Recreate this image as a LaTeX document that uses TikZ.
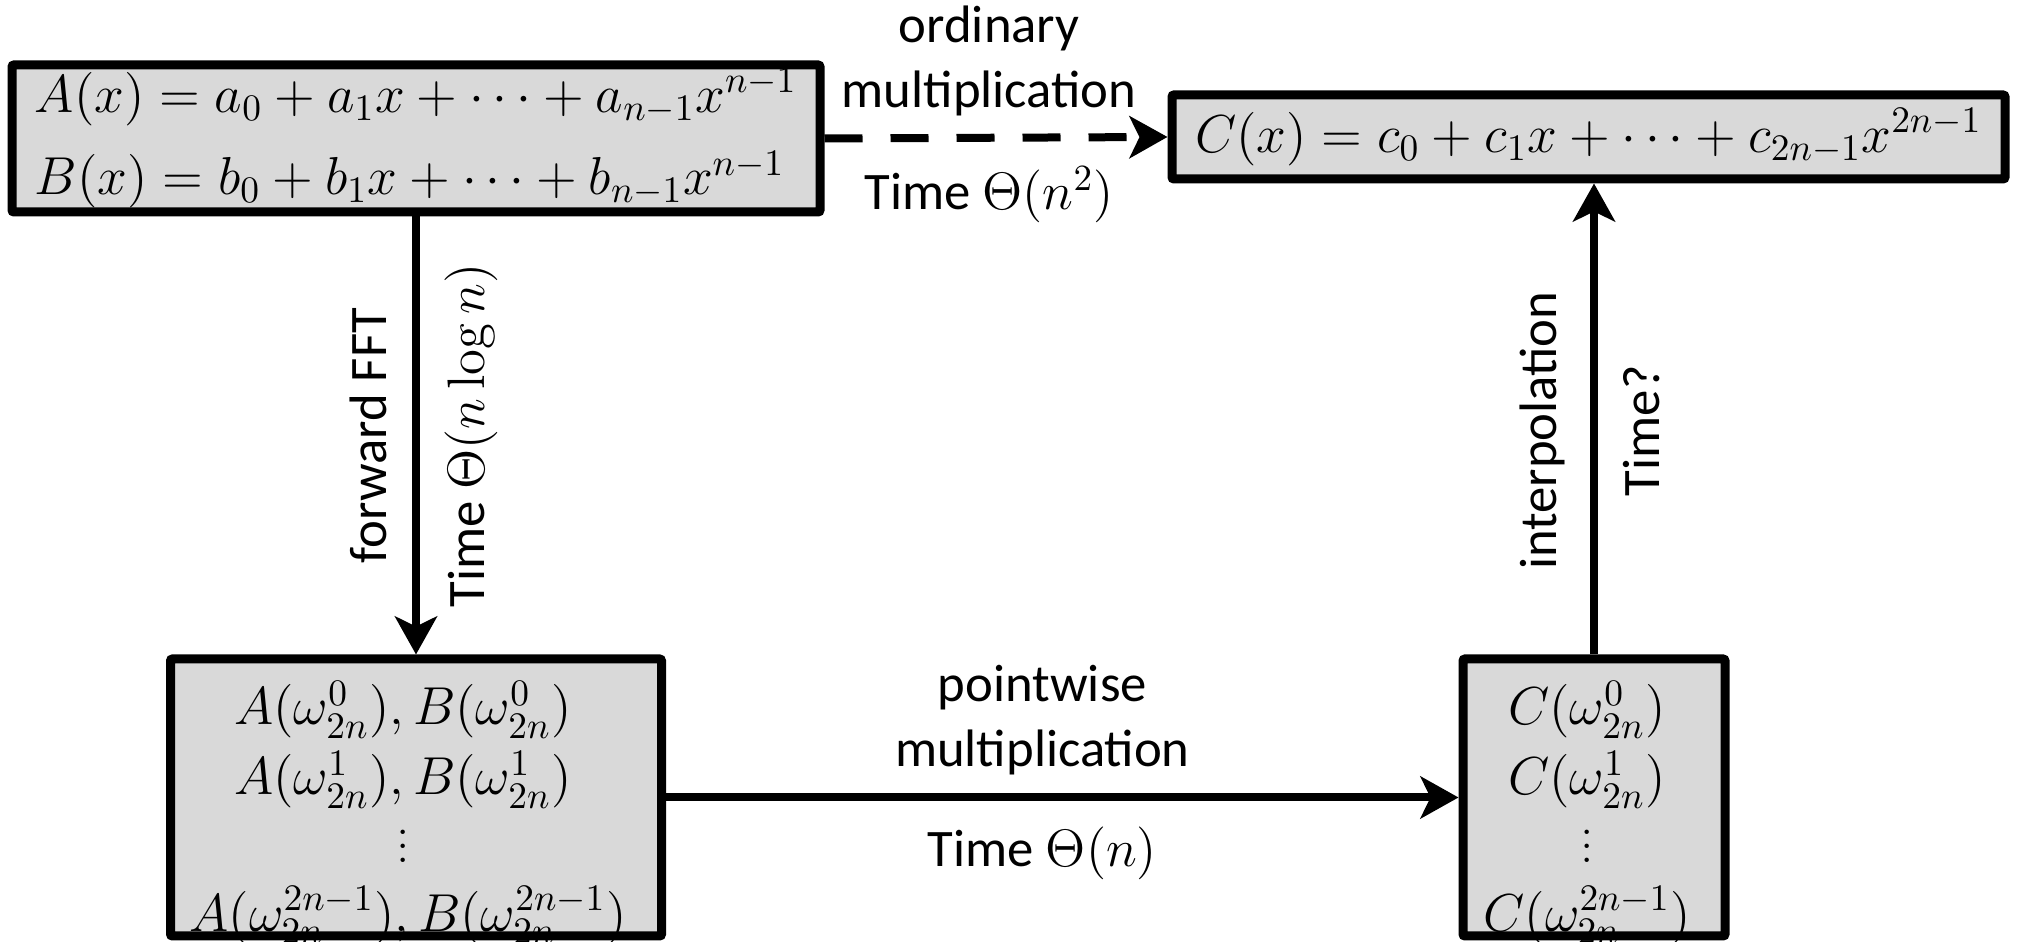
\RequirePackage{fix-cm}
\documentclass[tikz,border=0pt]{standalone}
\usepackage[no-math]{fontspec}
\newfontfamily\calib{Carlito}
\usetikzlibrary{arrows.meta}
\definecolor{boxgray}{HTML}{D9D9D9}
\newcommand\tightlines{\lineskiplimit=-20pt\relax}
\tikzset{
  box/.style={draw, line width=0.09cm, fill=boxgray, rounded corners=0.02cm, inner sep=0pt},
  conn/.style={line width=0.08cm, -{Stealth[length=0.38cm, width=0.42cm, inset=0.1cm]}},
  lbl/.style={font=\calib\fontsize{15}{18.5}\selectfont, align=center, inner sep=0.25cm},
  upper/.style={lbl, inner sep=0.18cm, anchor=south},
  eq/.style={font=\fontsize{15.2}{21}\selectfont\tightlines}
}
\begin{document}
\begin{tikzpicture}
  \useasboundingbox (0,0) rectangle (20.23,9.42);
  % coefficient representation
  \node[box, eq, minimum width=8.08cm, minimum height=1.47cm, align=left] (polyAB) at (4.16,8.035)
    {$A(x)=a_0+a_1x+\cdots+a_{n-1}x^{n-1}$\\[2.5pt]$B(x)=b_0+b_1x+\cdots+b_{n-1}x^{n-1}$};
  \node[box, eq, minimum width=8.33cm, minimum height=0.84cm] (polyC) at (15.885,8.05)
    {$C(x)=c_0+c_1x+\cdots+c_{2n-1}x^{2n-1}$};
  % point-value representation
  \node[box, minimum width=4.91cm, minimum height=2.77cm] (evalAB) at (4.16,1.445) {};
  \node[box, minimum width=2.62cm, minimum height=2.77cm] (evalC) at (15.94,1.445) {};
  \node[eq, anchor=base] (evalABa) at (4.03,2.17) {$A\Bigl(\omega_{2n}^{0}\Bigr),B\Bigl(\omega_{2n}^{0}\Bigr)$};
  \node[eq, anchor=base] (evalABb) at (4.03,1.47) {$A\Bigl(\omega_{2n}^{1}\Bigr),B\Bigl(\omega_{2n}^{1}\Bigr)$};
  \node[eq, anchor=base] (evalABd) at (4.03,0.79) {$\vdots$};
  \node[eq, anchor=base] (evalABz) at (4.08,0.10) {$A\Bigl(\omega_{2n}^{2n-1}\Bigr),B\Bigl(\omega_{2n}^{2n-1}\Bigr)$};
  \node[eq, anchor=base] (evalCa) at (15.87,2.17) {$C\Bigl(\omega_{2n}^{0}\Bigr)$};
  \node[eq, anchor=base] (evalCb) at (15.87,1.47) {$C\Bigl(\omega_{2n}^{1}\Bigr)$};
  \node[eq, anchor=base] (evalCd) at (15.87,0.79) {$\vdots$};
  \node[eq, anchor=base] (evalCz) at (15.87,0.10) {$C\Bigl(\omega_{2n}^{2n-1}\Bigr)$};
  % connectors
  \draw[conn, dash pattern=on 0.38cm off 0.28cm] (polyAB.east) --
    node[upper, pos=0.48] (ordLbl) {ordinary\\multiplication}
    node[lbl, pos=0.48, anchor=north] (ordTime) {Time $\Theta\bigl(n^2\bigr)$} (polyC.west);
  \draw[conn] (polyAB.south) --
    node[lbl, rotate=90, anchor=south] (fftLbl) {forward FFT}
    node[lbl, rotate=90, anchor=north] (fftTime) {Time $\Theta(n\log n)$} (evalAB.north);
  \draw[conn] (evalAB.east) --
    node[upper, pos=0.475] (ptLbl) {pointwise\\multiplication}
    node[lbl, pos=0.475, anchor=north] (ptTime) {Time $\Theta(n)$} (evalC.west);
  \draw[conn] (evalC.north) --
    node[lbl, pos=0.475, rotate=90, anchor=south] (interpLbl) {interpolation}
    node[lbl, pos=0.475, rotate=90, anchor=north] (interpTime) {Time?} (evalC.north |- polyC.south);
\end{tikzpicture}
\end{document}
